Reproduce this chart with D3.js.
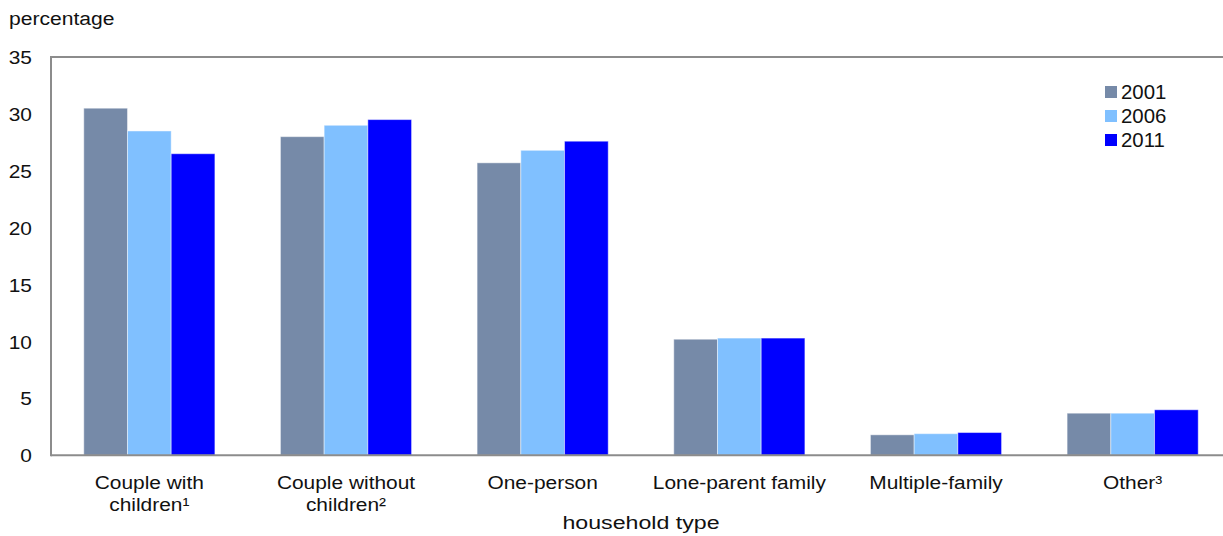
<!DOCTYPE html>
<html>
<head>
<meta charset="utf-8">
<script src="https://cdn.jsdelivr.net/npm/d3@7"></script>
<style>
  html, body { margin: 0; padding: 0; background: #fff; }
  svg { display: block; }
  text { font-family: "Liberation Sans", Arial, sans-serif; fill: #111; }
</style>
</head>
<body>
<svg id="chart" width="1223" height="536"></svg>
<script>
// Household types (labels may wrap to two lines)
const categories = [
  ["Couple with", "children\u00B9"],
  ["Couple without", "children\u00B2"],
  ["One-person"],
  ["Lone-parent family"],
  ["Multiple-family"],
  ["Other\u00B3"]
];
const years = ["2001", "2006", "2011"];
const values2001 = [30.5, 28.0, 25.7, 10.2, 1.8, 3.7];
const values2006 = [28.5, 29.0, 26.8, 10.3, 1.9, 3.7];
const values2011 = [26.5, 29.5, 27.6, 10.3, 2.0, 4.0];
const yTicks = [0, 5, 10, 15, 20, 25, 30, 35];
const colors = ["#768AA8", "#80C0FF", "#0000FF"];

const series = [values2001, values2006, values2011];

const svg = d3.select("#chart");
const plotLeft = 51, plotRight = 1231, plotTop = 57, plotBottom = 455.3;

// Text drawn slightly wide, stretched horizontally about its anchor point
function wideText(parent, x, yPos, str, opts) {
  const o = Object.assign({ size: 19, sx: 1.1, anchor: "start" }, opts || {});
  const g = parent.append("g").attr("transform", `translate(${x},${yPos}) scale(${o.sx},1)`);
  g.append("text")
    .attr("x", 0).attr("y", 0)
    .attr("text-anchor", o.anchor)
    .style("font-size", o.size + "px")
    .text(str);
  return g;
}

const x0 = d3.scaleBand()
  .domain(d3.range(categories.length))
  .range([plotLeft, plotRight])
  .paddingInner(0)
  .paddingOuter(0);

// 150% gap between groups: band = 4.5 bar widths
const barW = x0.bandwidth() / 4.5;
const x1 = d3.scaleBand()
  .domain(years)
  .range([0, barW * 3]);
const groupOffset = (x0.bandwidth() - barW * 3) / 2;

const y = d3.scaleLinear().domain([0, 35]).range([plotBottom, plotTop]);

// Bars
years.forEach((yr, si) => {
  svg.append("g")
    .selectAll("rect")
    .data(series[si])
    .join("rect")
    .attr("x", (d, i) => x0(i) + groupOffset + x1(yr))
    .attr("y", d => y(d))
    .attr("width", x1.bandwidth())
    .attr("height", d => y(0) - y(d))
    .attr("fill", colors[si])
    .attr("stroke", "rgba(255,255,255,0.45)")
    .attr("stroke-width", 1);
});

// Plot frame
const axisColor = "#8c8c8c";
svg.append("line").attr("x1", plotLeft).attr("x2", 1223).attr("y1", plotTop).attr("y2", plotTop)
  .attr("stroke", axisColor).attr("stroke-width", 2);
svg.append("line").attr("x1", plotLeft).attr("x2", 1223).attr("y1", plotBottom).attr("y2", plotBottom)
  .attr("stroke", axisColor).attr("stroke-width", 2);
svg.append("line").attr("x1", plotLeft).attr("x2", plotLeft).attr("y1", plotTop - 1).attr("y2", plotBottom + 1)
  .attr("stroke", axisColor).attr("stroke-width", 2);

// Y axis labels
const yAxis = d3.axisLeft(y).tickValues(yTicks).tickSize(0).tickPadding(0).tickFormat("");
const gy = svg.append("g").attr("transform", `translate(${plotLeft},0)`).call(yAxis);
gy.select(".domain").remove();
gy.selectAll(".tick").each(function(d) {
  wideText(d3.select(this), -19, 6.5, d3.format("d")(d), { anchor: "end" });
});

// Category labels
const catG = svg.append("g");
categories.forEach((lines, i) => {
  const cx = x0(i) + x0.bandwidth() / 2;
  lines.forEach((ln, li) => {
    wideText(catG, cx, 489 + li * 21.5, ln, { anchor: "middle" });
  });
});

// Axis titles
wideText(svg, (plotLeft + plotRight) / 2, 529, "household type", { anchor: "middle", sx: 1.22 });
wideText(svg, 9, 25, "percentage", { sx: 1.11 });

// Legend
const legend = svg.append("g").attr("transform", "translate(1105,0)");
years.forEach((yr, i) => {
  const cy = 92 + i * 24;
  legend.append("rect")
    .attr("x", 0).attr("y", cy - 6)
    .attr("width", 12).attr("height", 12)
    .attr("fill", colors[i]);
  wideText(legend, 16, cy + 7, yr, { size: 20, sx: 1.02 });
});
</script>
</body>
</html>
